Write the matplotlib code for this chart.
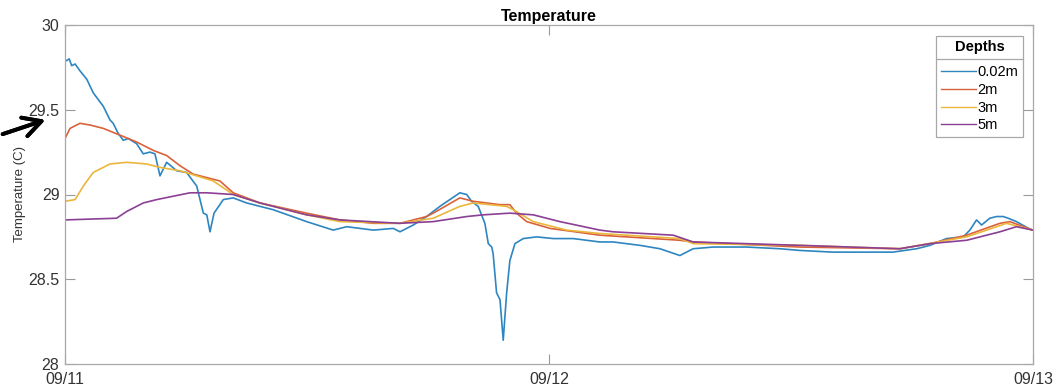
#!/usr/bin/env python3
"""Temperature at several depths over two days (09/11 - 09/13)."""

from __future__ import annotations

import matplotlib

matplotlib.use("Agg")
import matplotlib.pyplot as plt
from matplotlib.lines import Line2D

# hours since 09/11 00:00 and temperature [C]
hours_002 = [0.0, 0.08, 0.21, 0.33, 0.50, 0.74, 1.08, 1.40, 1.90, 2.23, 2.39, 2.64, 2.89, 3.14, 3.55,
             3.88, 4.21, 4.46, 4.71, 5.04, 5.54, 6.03, 6.53, 6.86, 7.03, 7.19, 7.39, 7.85, 8.34, 9.01,
             9.67, 10.33, 11.98, 13.30, 13.97, 15.29, 16.28, 16.61, 17.27, 17.93, 18.59, 19.58, 19.92,
             20.16, 20.49, 20.82, 20.99, 21.16, 21.23, 21.40, 21.57, 21.73, 21.90, 22.06, 22.31, 22.72,
             23.39, 24.21, 25.20, 26.52, 27.18, 28.51, 29.50, 30.49, 31.15, 32.14, 33.80, 35.45, 36.44,
             38.08, 39.75, 41.05, 42.23, 42.89, 43.71, 44.54, 44.87, 45.20, 45.45, 45.86, 46.19, 46.52,
             46.77, 47.18, 47.93, 48.0]
temp_002 = [29.79, 29.79, 29.80, 29.76, 29.77, 29.73, 29.68, 29.60, 29.52, 29.44, 29.42, 29.36, 29.32,
            29.33, 29.30, 29.24, 29.25, 29.24, 29.11, 29.19, 29.14, 29.13, 29.05, 28.89, 28.88, 28.78,
            28.89, 28.97, 28.98, 28.95, 28.93, 28.91, 28.84, 28.79, 28.81, 28.79, 28.80, 28.78, 28.82,
            28.87, 28.93, 29.01, 29.00, 28.96, 28.93, 28.83, 28.71, 28.69, 28.65, 28.42, 28.38, 28.14,
            28.42, 28.61, 28.71, 28.74, 28.75, 28.74, 28.74, 28.72, 28.72, 28.70, 28.68, 28.64, 28.68,
            28.69, 28.69, 28.68, 28.67, 28.66, 28.66, 28.66, 28.68, 28.70, 28.74, 28.75, 28.79, 28.85,
            28.82, 28.86, 28.87, 28.87, 28.86, 28.84, 28.79, 28.79]

hours_2 = [0.0, 0.25, 0.74, 1.24, 1.90, 2.73, 3.55, 4.38, 5.04, 5.70, 6.36, 7.35, 7.68, 8.34, 9.01, 9.67,
           11.98, 13.63, 15.29, 16.61, 17.93, 18.26, 19.58, 20.24, 21.57, 22.06, 22.39, 22.89, 24.05,
           26.52, 30.49, 31.15, 36.44, 41.40, 42.89, 44.71, 46.36, 46.85, 48.0]
temp_2 = [29.33, 29.39, 29.42, 29.41, 29.39, 29.35, 29.31, 29.26, 29.23, 29.17, 29.12, 29.09, 29.08,
          29.01, 28.98, 28.95, 28.89, 28.85, 28.83, 28.83, 28.87, 28.89, 28.98, 28.96, 28.94, 28.94,
          28.89, 28.84, 28.80, 28.76, 28.73, 28.72, 28.69, 28.68, 28.71, 28.76, 28.83, 28.84, 28.79]

hours_3 = [0.0, 0.50, 0.91, 1.40, 2.23, 3.06, 4.05, 4.71, 5.70, 6.53, 7.35, 8.34, 9.67, 11.98, 13.63,
           16.61, 18.26, 19.58, 20.24, 21.90, 22.23, 23.22, 24.87, 26.52, 30.49, 31.15, 36.44, 41.40,
           44.71, 46.69, 48.0]
temp_3 = [28.96, 28.97, 29.05, 29.13, 29.18, 29.19, 29.18, 29.16, 29.14, 29.11, 29.08, 29.00, 28.95,
          28.88, 28.84, 28.83, 28.86, 28.93, 28.95, 28.93, 28.91, 28.84, 28.79, 28.77, 28.74, 28.71,
          28.70, 28.68, 28.75, 28.83, 28.79]

hours_5 = [0.0, 2.56, 3.06, 3.88, 4.55, 5.37, 6.20, 7.03, 8.34, 9.67, 11.98, 13.63, 16.61, 18.26,
           19.92, 20.74, 22.06, 23.22, 24.54, 26.52, 27.18, 30.16, 31.15, 36.44, 41.40, 42.89, 44.71,
           46.36, 47.18, 48.0]
temp_5 = [28.85, 28.86, 28.90, 28.95, 28.97, 28.99, 29.01, 29.01, 29.00, 28.95, 28.88, 28.85, 28.83,
          28.84, 28.87, 28.88, 28.89, 28.88, 28.84, 28.79, 28.78, 28.76, 28.72, 28.70, 28.68, 28.71,
          28.73, 28.78, 28.81, 28.79]

depth_labels = ["0.02m", "2m", "3m", "5m"]
date_ticks = [0, 24, 48]
date_labels = ["09/11", "09/12", "09/13"]
y_ticks = [28, 28.5, 29, 29.5, 30]
y_labels = ["28", "28.5", "29", "29.5", "30"]

COLORS = ["#2e86c1", "#d9623b", "#ebb63c", "#8b3f95"]
W, H = 1057, 390


def main() -> int:
    plt.rcParams["font.family"] = ["Liberation Sans", "DejaVu Sans"]
    fig = plt.figure(figsize=(W / 100, H / 100), dpi=100)
    ax = fig.add_axes([65 / W, 1 - 364 / H, 968 / W, 339 / H])

    series = [(hours_002, temp_002), (hours_2, temp_2), (hours_3, temp_3), (hours_5, temp_5)]
    for (xs, ys), label, color in zip(series, depth_labels, COLORS):
        ax.plot(xs, ys, color=color, linewidth=1.2, label=label)

    ax.set_xlim(0, 48)
    ax.set_ylim(28, 30)
    ax.set_xticks(date_ticks)
    ax.set_xticklabels(date_labels)
    ax.set_yticks(y_ticks)
    ax.set_yticklabels(y_labels)
    ax.tick_params(direction="in", length=7, width=0.8, color="#9a9a9a", labelcolor="#333333",
                   labelsize=11.5, top=True, right=True)
    ax.tick_params(axis="x", pad=6)
    ax.tick_params(axis="y", pad=4)
    for spine in ax.spines.values():
        spine.set_color("#a8a8a8")
        spine.set_linewidth(0.9)
    ax.set_title("Temperature", fontsize=11.5, fontweight="bold", pad=3)
    ax.set_ylabel("Temperature (C)", fontsize=9.5, color="#333333", labelpad=2)

    leg = ax.legend(title="Depths", loc="upper right", bbox_to_anchor=(1023 / W, 1 - 36 / H),
                    bbox_transform=fig.transFigure, borderaxespad=0, fontsize=10.5,
                    title_fontproperties={"weight": "bold", "size": 10.5}, fancybox=False,
                    edgecolor="#a8a8a8", framealpha=1, handlelength=2.4, handletextpad=0.15,
                    labelspacing=0.25, borderpad=0.3)
    leg._legend_box.sep = 8  # room for the rule under the title
    leg.get_frame().set_linewidth(0.9)
    for line in leg.get_lines():
        line.set_linewidth(1.0)
    fig.add_artist(Line2D([937 / W, 1023 / W], [1 - 59 / H, 1 - 59 / H], color="#a8a8a8",
                          linewidth=0.9, transform=fig.transFigure))

    # hand-drawn arrow pointing at the 29.5 tick
    fig.add_artist(plt.annotate("", xy=(48 / W, 1 - 119 / H), xytext=(0, 1 - 135 / H),
                                xycoords="figure fraction", textcoords="figure fraction",
                                arrowprops=dict(arrowstyle="->,head_length=1.3,head_width=0.7",
                                                color="black", lw=2.8)))

    fig.savefig("out.png", dpi=100)
    plt.close(fig)
    return 0


if __name__ == "__main__":
    raise SystemExit(main())
